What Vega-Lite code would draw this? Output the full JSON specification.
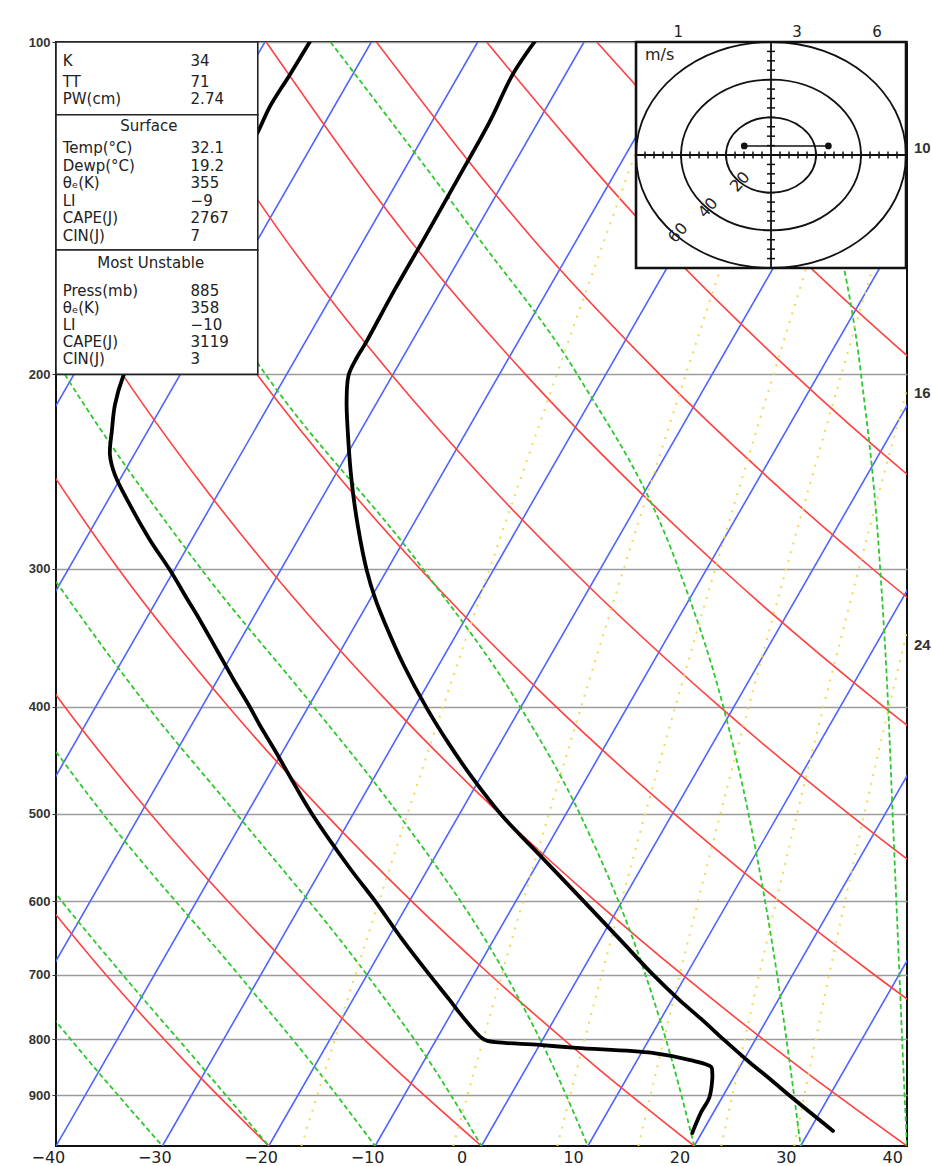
{
"$schema":"https://vega.github.io/schema/vega-lite/v6.json",
"width":851,"height":1104,
"autosize":{"type":"none"},
"padding":{"left":56,"top":42,"right":25,"bottom":20},
"background":"white",
"config":{"view":{"stroke":"#111111","strokeWidth":2},"font":"DejaVu Sans"},
"datasets":{
"iso":[
{"id":-90,"x":-90,"p":1000},{"id":-90,"x":-30.36,"p":100},
{"id":-80,"x":-80,"p":1000},{"id":-80,"x":-20.36,"p":100},
{"id":-70,"x":-70,"p":1000},{"id":-70,"x":-10.36,"p":100},
{"id":-60,"x":-60,"p":1000},{"id":-60,"x":-0.36,"p":100},
{"id":-50,"x":-50,"p":1000},{"id":-50,"x":9.64,"p":100},
{"id":-40,"x":-40,"p":1000},{"id":-40,"x":19.64,"p":100},
{"id":-30,"x":-30,"p":1000},{"id":-30,"x":29.64,"p":100},
{"id":-20,"x":-20,"p":1000},{"id":-20,"x":39.64,"p":100},
{"id":-10,"x":-10,"p":1000},{"id":-10,"x":49.64,"p":100},
{"id":0,"x":0,"p":1000},{"id":0,"x":59.64,"p":100},
{"id":10,"x":10,"p":1000},{"id":10,"x":69.64,"p":100},
{"id":20,"x":20,"p":1000},{"id":20,"x":79.64,"p":100},
{"id":30,"x":30,"p":1000},{"id":30,"x":89.64,"p":100},
{"id":40,"x":40,"p":1000},{"id":40,"x":99.64,"p":100}
],
"dry":[
{"id":253,"x":-20,"p":1000},{"id":253,"x":-27.28,"p":850},{"id":253,"x":-35.29,"p":700},{"id":253,"x":-47.53,"p":500},
{"id":273,"x":0,"p":1000},{"id":273,"x":-8.18,"p":850},{"id":273,"x":-17.22,"p":700},{"id":273,"x":-23.86,"p":600},{"id":273,"x":-31.12,"p":500},{"id":273,"x":-39.18,"p":400},{"id":273,"x":-48.32,"p":300},
{"id":293,"x":20,"p":1000},{"id":293,"x":10.91,"p":850},{"id":293,"x":0.84,"p":700},{"id":293,"x":-6.58,"p":600},{"id":293,"x":-14.72,"p":500},{"id":293,"x":-23.79,"p":400},{"id":293,"x":-34.14,"p":300},{"id":293,"x":-46.38,"p":200},
{"id":313,"x":40,"p":1000},{"id":313,"x":30.0,"p":850},{"id":313,"x":18.9,"p":700},{"id":313,"x":10.71,"p":600},{"id":313,"x":1.69,"p":500},{"id":313,"x":-8.39,"p":400},{"id":313,"x":-19.96,"p":300},{"id":313,"x":-26.51,"p":250},{"id":313,"x":-33.75,"p":200},{"id":313,"x":-41.9,"p":150},
{"id":333,"x":60,"p":1000},{"id":333,"x":49.09,"p":850},{"id":333,"x":36.96,"p":700},{"id":333,"x":27.99,"p":600},{"id":333,"x":18.1,"p":500},{"id":333,"x":7.0,"p":400},{"id":333,"x":-5.78,"p":300},{"id":333,"x":-13.06,"p":250},{"id":333,"x":-21.12,"p":200},{"id":333,"x":-30.27,"p":150},{"id":333,"x":-40.96,"p":100},
{"id":353,"x":55.02,"p":700},{"id":353,"x":45.28,"p":600},{"id":353,"x":34.5,"p":500},{"id":353,"x":22.39,"p":400},{"id":353,"x":8.39,"p":300},{"id":353,"x":0.4,"p":250},{"id":353,"x":-8.49,"p":200},{"id":353,"x":-18.64,"p":150},{"id":353,"x":-30.6,"p":100},
{"id":373,"x":50.91,"p":500},{"id":373,"x":37.79,"p":400},{"id":373,"x":22.57,"p":300},{"id":373,"x":13.87,"p":250},{"id":373,"x":4.13,"p":200},{"id":373,"x":-7.0,"p":150},{"id":373,"x":-20.24,"p":100},
{"id":393,"x":53.18,"p":400},{"id":393,"x":36.75,"p":300},{"id":393,"x":27.32,"p":250},{"id":393,"x":16.76,"p":200},{"id":393,"x":4.63,"p":150},{"id":393,"x":-9.88,"p":100},
{"id":413,"x":50.93,"p":300},{"id":413,"x":40.78,"p":250},{"id":413,"x":29.39,"p":200},{"id":413,"x":16.26,"p":150},{"id":413,"x":0.48,"p":100},
{"id":433,"x":54.24,"p":250},{"id":433,"x":42.02,"p":200},{"id":433,"x":27.89,"p":150},{"id":433,"x":10.84,"p":100},
{"id":453,"x":54.65,"p":200},{"id":453,"x":39.52,"p":150},{"id":453,"x":21.2,"p":100}
],
"moist":[
{"id":40,"x":40,"p":1000},{"id":40,"x":39.66,"p":850},{"id":40,"x":39.29,"p":700},{"id":40,"x":38.65,"p":500},{"id":40,"x":38.23,"p":400},{"id":40,"x":37.48,"p":300},{"id":40,"x":35.68,"p":200},{"id":40,"x":33.49,"p":150},{"id":40,"x":27.64,"p":100},
{"id":30,"x":30,"p":1000},{"id":30,"x":29.04,"p":850},{"id":30,"x":27.79,"p":700},{"id":30,"x":25.1,"p":500},{"id":30,"x":22.73,"p":400},{"id":30,"x":18.53,"p":300},{"id":30,"x":9.0,"p":200},{"id":30,"x":-0.4,"p":150},{"id":30,"x":-14.2,"p":100},
{"id":20,"x":20,"p":1000},{"id":20,"x":18.11,"p":850},{"id":20,"x":15.42,"p":700},{"id":20,"x":9.23,"p":500},{"id":20,"x":3.63,"p":400},{"id":20,"x":-5.52,"p":300},{"id":20,"x":-20.3,"p":200},{"id":20,"x":-28.8,"p":150},{"id":20,"x":-39.6,"p":100},
{"id":10,"x":10,"p":1000},{"id":10,"x":6.81,"p":850},{"id":10,"x":2.29,"p":700},{"id":10,"x":-7.85,"p":500},{"id":10,"x":-15.77,"p":400},{"id":10,"x":-26.37,"p":300},{"id":10,"x":-39.17,"p":200},{"id":10,"x":-46.8,"p":150},
{"id":0,"x":0,"p":1000},{"id":0,"x":-4.49,"p":850},{"id":0,"x":-10.76,"p":700},{"id":0,"x":-23.05,"p":500},{"id":0,"x":-31.37,"p":400},{"id":0,"x":-40.87,"p":300},
{"id":-10,"x":-10,"p":1000},{"id":-10,"x":-15.59,"p":850},{"id":-10,"x":-22.81,"p":700},{"id":-10,"x":-35.6,"p":500},{"id":-10,"x":-43.1,"p":400},
{"id":-20,"x":-20,"p":1000},{"id":-20,"x":-26.19,"p":850},{"id":-20,"x":-33.71,"p":700},{"id":-20,"x":-39.47,"p":600},{"id":-20,"x":-45.8,"p":500},
{"id":-30,"x":-30,"p":1000},{"id":-30,"x":-36.35,"p":850},{"id":-30,"x":-43.61,"p":700}
],
"mixr":[
{"id":1,"x":-16.93,"p":1000},{"id":1,"x":-11.86,"p":700},{"id":1,"x":-6.95,"p":500},{"id":1,"x":0.77,"p":300},{"id":1,"x":7.08,"p":200},{"id":1,"x":18.25,"p":100},
{"id":3,"x":-2.66,"p":1000},{"id":3,"x":1.89,"p":700},{"id":3,"x":6.34,"p":500},{"id":3,"x":13.38,"p":300},{"id":3,"x":19.21,"p":200},{"id":3,"x":29.61,"p":100},
{"id":6,"x":7.12,"p":1000},{"id":6,"x":11.29,"p":700},{"id":6,"x":15.4,"p":500},{"id":6,"x":21.97,"p":300},{"id":6,"x":27.45,"p":200},{"id":6,"x":37.29,"p":100},
{"id":10,"x":14.75,"p":1000},{"id":10,"x":18.62,"p":700},{"id":10,"x":22.46,"p":500},{"id":10,"x":28.65,"p":300},{"id":10,"x":33.83,"p":200},{"id":10,"x":43.24,"p":100},
{"id":16,"x":22.54,"p":1000},{"id":16,"x":26.1,"p":700},{"id":16,"x":29.67,"p":500},{"id":16,"x":35.48,"p":300},{"id":16,"x":40.39,"p":200},{"id":16,"x":49.35,"p":100},
{"id":24,"x":29.4,"p":1000},{"id":24,"x":32.68,"p":700},{"id":24,"x":36.0,"p":500},{"id":24,"x":41.45,"p":300},{"id":24,"x":46.1,"p":200}
],
"snd":[
{"k":"T","x":33.05,"p":969.0},{"k":"T","x":29.01,"p":900.9},{"k":"T","x":27.23,"p":871.3},{"k":"T","x":25.16,"p":839.2},{"k":"T","x":22.91,"p":803.2},{"k":"T","x":20.75,"p":768.7},{"k":"T","x":18.59,"p":737.4},{"k":"T","x":16.15,"p":699.9},{"k":"T","x":13.05,"p":650.6},{"k":"T","x":9.67,"p":601.0},{"k":"T","x":5.73,"p":548.4},{"k":"T","x":1.88,"p":501.4},{"k":"T","x":-0.85,"p":464.1},{"k":"T","x":-3.0,"p":433.2},{"k":"T","x":-5.16,"p":401.0},{"k":"T","x":-7.32,"p":366.7},{"k":"T","x":-9.01,"p":337.3},{"k":"T","x":-9.95,"p":320.2},{"k":"T","x":-10.8,"p":300.7},{"k":"T","x":-11.64,"p":273.8},{"k":"T","x":-12.21,"p":249.8},{"k":"T","x":-12.58,"p":224.6},{"k":"T","x":-12.68,"p":211.0},{"k":"T","x":-12.49,"p":200.3},{"k":"T","x":-11.74,"p":193.3},{"k":"T","x":-10.99,"p":188.1},{"k":"T","x":-8.17,"p":167.7},{"k":"T","x":-5.26,"p":149.9},{"k":"T","x":-2.07,"p":132.2},{"k":"T","x":0.75,"p":118.2},{"k":"T","x":2.91,"p":107.1},{"k":"T","x":4.98,"p":100},
{"k":"Td","x":19.81,"p":973.1},{"k":"Td","x":20.66,"p":931.4},{"k":"Td","x":21.41,"p":904.6},{"k":"Td","x":21.69,"p":871.3},{"k":"Td","x":21.69,"p":856.9},{"k":"Td","x":21.6,"p":847.9},{"k":"Td","x":19.53,"p":835.7},{"k":"Td","x":16.06,"p":823.5},{"k":"Td","x":8.92,"p":815.0},{"k":"Td","x":5.45,"p":809.9},{"k":"Td","x":0.56,"p":803.2},{"k":"Td","x":0.0,"p":798.1},{"k":"Td","x":-2.07,"p":757.6},{"k":"Td","x":-3.0,"p":737.4},{"k":"Td","x":-4.88,"p":699.9},{"k":"Td","x":-7.42,"p":650.6},{"k":"Td","x":-9.95,"p":601.0},{"k":"Td","x":-12.39,"p":560.0},{"k":"Td","x":-15.87,"p":501.4},{"k":"Td","x":-17.56,"p":470.9},{"k":"Td","x":-19.44,"p":437.8},{"k":"Td","x":-20.85,"p":415.6},{"k":"Td","x":-21.88,"p":398.6},{"k":"Td","x":-23.29,"p":378.3},{"k":"Td","x":-24.88,"p":355.4},{"k":"Td","x":-26.48,"p":333.8},{"k":"Td","x":-27.61,"p":320.2},{"k":"Td","x":-29.3,"p":300.7},{"k":"Td","x":-31.17,"p":282.5},{"k":"Td","x":-33.05,"p":262.6},{"k":"Td","x":-34.46,"p":246.7},{"k":"Td","x":-34.93,"p":236.6},{"k":"Td","x":-34.74,"p":224.6},{"k":"Td","x":-34.46,"p":213.2},{"k":"Td","x":-33.71,"p":201.1},{"k":"Td","x":-30.23,"p":171.3},{"k":"Td","x":-25.54,"p":144.9},{"k":"Td","x":-21.03,"p":120.7},{"k":"Td","x":-19.91,"p":114.5},{"k":"Td","x":-18.03,"p":107.1},{"k":"Td","x":-16.15,"p":100}
],
"boxes":[
{"x":-40,"x2":-21.03,"p":100,"p2":116.4},
{"x":-40,"x2":-21.03,"p":116.4,"p2":154.3},
{"x":-40,"x2":-21.03,"p":154.3,"p2":200}
],
"tbl":[
{"x":-39.37,"p":103.98,"t":"K"},{"x":-27.35,"p":103.98,"t":"34"},
{"x":-39.37,"p":108.63,"t":"TT"},{"x":-27.35,"p":108.63,"t":"71"},
{"x":-39.37,"p":112.62,"t":"PW(cm)"},{"x":-27.35,"p":112.62,"t":"2.74"},
{"x":-39.37,"p":124.74,"t":"Temp(°C)"},{"x":-27.35,"p":124.74,"t":"32.1"},
{"x":-39.37,"p":129.38,"t":"Dewp(°C)"},{"x":-27.35,"p":129.38,"t":"19.2"},
{"x":-39.37,"p":134.19,"t":"θₑ(K)"},{"x":-27.35,"p":134.19,"t":"355"},
{"x":-39.37,"p":139.18,"t":"LI"},{"x":-27.35,"p":139.18,"t":"−9"},
{"x":-39.37,"p":144.35,"t":"CAPE(J)"},{"x":-27.35,"p":144.35,"t":"2767"},
{"x":-39.37,"p":149.72,"t":"CIN(J)"},{"x":-27.35,"p":149.72,"t":"7"},
{"x":-39.37,"p":168.06,"t":"Press(mb)"},{"x":-27.35,"p":168.06,"t":"885"},
{"x":-39.37,"p":174.09,"t":"θₑ(K)"},{"x":-27.35,"p":174.09,"t":"358"},
{"x":-39.37,"p":180.4,"t":"LI"},{"x":-27.35,"p":180.4,"t":"−10"},
{"x":-39.37,"p":186.96,"t":"CAPE(J)"},{"x":-27.35,"p":186.96,"t":"3119"},
{"x":-39.37,"p":193.74,"t":"CIN(J)"},{"x":-27.35,"p":193.74,"t":"3"}
],
"heads":[
{"x":-31.27,"p":119.15,"t":"Surface"},
{"x":-31.1,"p":158.55,"t":"Most  Unstable"}
],
"toplab":[
{"x":18.5,"p":97.87,"t":"1"},{"x":29.67,"p":97.87,"t":"3"},{"x":37.18,"p":97.87,"t":"6"}
],
"sidelab":[
{"x":40.66,"p":124.7,"t":"10"},{"x":40.66,"p":208.05,"t":"16"},{"x":40.66,"p":351.7,"t":"24"}
],
"hbox":[{"u":-60,"u2":60,"v":-60,"v2":60}],
"rings":[{"u":0,"v":0,"ring":20},{"u":0,"v":0,"ring":40},{"u":0,"v":0,"ring":60}],
"cross":[{"u":-60,"u2":60,"v":0,"v2":0},{"u":0,"u2":0,"v":-60,"v2":60}],
"hticks":[{"u":-56,"v":0},{"u":-52,"v":0},{"u":-48,"v":0},{"u":-44,"v":0},{"u":-40,"v":0},{"u":-36,"v":0},{"u":-32,"v":0},{"u":-28,"v":0},{"u":-24,"v":0},{"u":-20,"v":0},{"u":-16,"v":0},{"u":-12,"v":0},{"u":-8,"v":0},{"u":-4,"v":0},{"u":4,"v":0},{"u":8,"v":0},{"u":12,"v":0},{"u":16,"v":0},{"u":20,"v":0},{"u":24,"v":0},{"u":28,"v":0},{"u":32,"v":0},{"u":36,"v":0},{"u":40,"v":0},{"u":44,"v":0},{"u":48,"v":0},{"u":52,"v":0},{"u":56,"v":0}],
"vticks":[{"u":0,"v":-55},{"u":0,"v":-50},{"u":0,"v":-45},{"u":0,"v":-40},{"u":0,"v":-35},{"u":0,"v":-30},{"u":0,"v":-25},{"u":0,"v":-20},{"u":0,"v":-15},{"u":0,"v":-10},{"u":0,"v":-5},{"u":0,"v":5},{"u":0,"v":10},{"u":0,"v":15},{"u":0,"v":20},{"u":0,"v":25},{"u":0,"v":30},{"u":0,"v":35},{"u":0,"v":40},{"u":0,"v":45},{"u":0,"v":50},{"u":0,"v":55}],
"wind":[{"u":-11.9,"v":4.8},{"u":25.5,"v":4.8}],
"ringlab":[{"u":-13.8,"v":-14.3,"t":"20"},{"u":-28,"v":-28.1,"t":"40"},{"u":-41.3,"v":-41.4,"t":"60"}],
"unit":[{"u":-56,"v":53,"t":"m/s"}]
},
"resolve":{"scale":{"x":"independent","y":"independent"}},
"layer":[
{
"encoding":{
"x":{"field":"x","type":"quantitative","scale":{"domain":[-40,40],"nice":false,"zero":false},
"axis":{"title":null,"values":[-40,-30,-20,-10,0,10,20,30,40],"grid":false,"ticks":false,"domain":false,"labelAlign":"left","labelOffset":-25,"labelPadding":3,"labelFontSize":16,"labelColor":"#222222","labelFont":"DejaVu Sans","labelFlush":false,"labelOverlap":false,"labelBound":false}},
"y":{"field":"p","type":"quantitative","scale":{"type":"log","domain":[100,1000],"reverse":true,"nice":false},
"axis":{"title":null,"values":[100,200,300,400,500,600,700,800,900],"format":"d","grid":true,"gridColor":"#9c9c9c","gridWidth":1.3,"domain":false,"tickSize":4,"tickColor":"#333333","labelPadding":2,"labelFont":"Liberation Sans","labelFontWeight":"bold","labelFontSize":13,"labelColor":"#333333","labelFlush":false,"labelOverlap":false}}
},
"layer":[
{"data":{"name":"iso"},"mark":{"type":"line","clip":true,"stroke":"#4f64ff","strokeWidth":1.6},"encoding":{"detail":{"field":"id","type":"nominal"}}},
{"data":{"name":"dry"},"mark":{"type":"line","clip":true,"stroke":"#ff4040","strokeWidth":1.6,"interpolate":"monotone"},"encoding":{"detail":{"field":"id","type":"nominal"}}},
{"data":{"name":"moist"},"mark":{"type":"line","clip":true,"stroke":"#2ec82e","strokeWidth":1.8,"strokeDash":[5,3],"interpolate":"monotone"},"encoding":{"detail":{"field":"id","type":"nominal"}}},
{"data":{"name":"mixr"},"mark":{"type":"line","clip":true,"stroke":"#f0da55","strokeWidth":2,"strokeDash":[2,7],"interpolate":"monotone"},"encoding":{"detail":{"field":"id","type":"nominal"}}},
{"data":{"name":"snd"},"mark":{"type":"line","clip":true,"stroke":"black","strokeWidth":3.8,"interpolate":"catmull-rom","strokeCap":"round","strokeJoin":"round"},"encoding":{"detail":{"field":"k","type":"nominal"},"order":{"field":"p","type":"quantitative","sort":"descending"}}},
{"data":{"name":"boxes"},"mark":{"type":"rect","fill":"white","stroke":"#222222","strokeWidth":1.6},"encoding":{"x2":{"field":"x2"},"y2":{"field":"p2"}}},
{"data":{"name":"tbl"},"mark":{"type":"text","align":"left","baseline":"middle","fontSize":15,"font":"DejaVu Sans","fill":"#222222"},"encoding":{"text":{"field":"t","type":"nominal"}}},
{"data":{"name":"heads"},"mark":{"type":"text","align":"center","baseline":"middle","fontSize":15,"font":"DejaVu Sans","fill":"#222222"},"encoding":{"text":{"field":"t","type":"nominal"}}},
{"data":{"name":"toplab"},"mark":{"type":"text","align":"center","baseline":"middle","fontSize":15,"font":"DejaVu Sans","fill":"#222222","clip":false},"encoding":{"text":{"field":"t","type":"nominal"}}},
{"data":{"name":"sidelab"},"mark":{"type":"text","align":"left","baseline":"middle","fontSize":15,"font":"Liberation Sans","fontWeight":"bold","fill":"#333333","clip":false},"encoding":{"text":{"field":"t","type":"nominal"}}}
]
},
{
"encoding":{
"x":{"field":"u","type":"quantitative","scale":{"domain":[-317.8,60.44],"nice":false,"zero":false},"axis":null},
"y":{"field":"v","type":"quantitative","scale":{"domain":[-526.2,60],"nice":false,"zero":false},"axis":null}
},
"layer":[
{"data":{"name":"hbox"},"mark":{"type":"rect","fill":"white","stroke":"#111111","strokeWidth":2.6},"encoding":{"x2":{"field":"u2"},"y2":{"field":"v2"}}},
{"data":{"name":"rings"},"mark":{"type":"point","shape":"M-1,0A1,0.837,0,1,1,1,0A1,0.837,0,1,1,-1,0Z","filled":false,"stroke":"#111111","strokeWidth":1.8,"opacity":1},"encoding":{"size":{"field":"ring","type":"quantitative","scale":{"type":"pow","exponent":2,"domain":[0,60],"range":[0,72900]},"legend":null}}},
{"data":{"name":"cross"},"mark":{"type":"rule","stroke":"#111111","strokeWidth":1.8},"encoding":{"x2":{"field":"u2"},"y2":{"field":"v2"}}},
{"data":{"name":"hticks"},"mark":{"type":"tick","orient":"vertical","size":7,"thickness":1.5,"color":"#111111","opacity":1},"encoding":{}},
{"data":{"name":"vticks"},"mark":{"type":"tick","orient":"horizontal","size":8,"thickness":1.5,"color":"#111111","opacity":1},"encoding":{}},
{"data":{"name":"wind"},"mark":{"type":"line","stroke":"#111111","strokeWidth":1.5},"encoding":{}},
{"data":{"name":"wind"},"mark":{"type":"point","shape":"circle","filled":true,"fill":"#111111","size":45,"opacity":1},"encoding":{}},
{"data":{"name":"ringlab"},"mark":{"type":"text","align":"center","baseline":"middle","angle":-48,"fontSize":16,"font":"DejaVu Sans","fill":"#222222"},"encoding":{"text":{"field":"t","type":"nominal"}}},
{"data":{"name":"unit"},"mark":{"type":"text","align":"left","baseline":"middle","fontSize":16,"font":"DejaVu Sans","fill":"#222222"},"encoding":{"text":{"field":"t","type":"nominal"}}}
]
}
]
}
